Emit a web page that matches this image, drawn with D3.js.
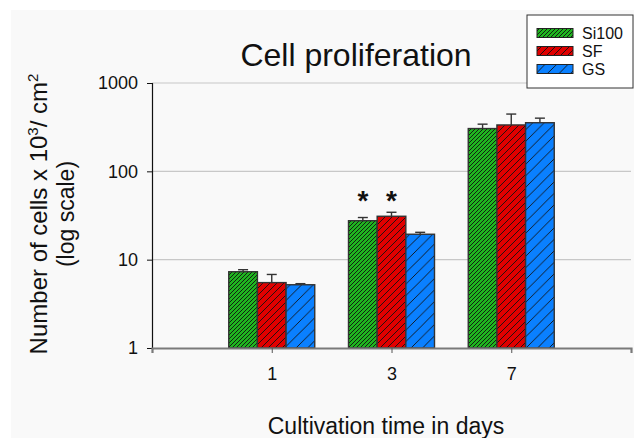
<!DOCTYPE html>
<html><head><meta charset="utf-8">
<script src="https://cdn.jsdelivr.net/npm/d3@7"></script>
<style>html,body{margin:0;padding:0;background:#fff}svg{display:block;font-family:"Liberation Sans",Arial,sans-serif}</style>
</head><body><svg id="c" width="634" height="438"></svg>
<script>
const days = ["1","3","7"];
const seriesNames = ["Si100","SF","GS"];
const si100 = [7.3, 27.6, 305];
const sf = [5.5, 31, 335];
const gs = [5.2, 19.4, 355];
const si100Err = [7.7, 30, 342];
const sfErr = [6.8, 34.4, 445];
const gsErr = [5.35, 20.4, 400];
const yTicks = [1, 10, 100, 1000];
const colors = ["#1fb51f", "#e00000", "#0a80ff"];
const hatchSpacing = [4, 7, 11.5];
const stars = [{day:"3", series:"Si100"}, {day:"3", series:"SF"}];

const values = [si100, sf, gs];
const errs = [si100Err, sfErr, gsErr];

const svg = d3.select("#c");
const W = 634, H = 438;
svg.append("rect").attr("x",11).attr("y",10).attr("width",W-11).attr("height",H-10).attr("fill","#f9f9f9");

const x0 = 152, x1 = 631, yTop = 83, yBot = 348;
const x = d3.scalePoint().domain(days).range([x0, x1]).padding(1);
const xs = d3.scaleBand().domain(seriesNames).range([-43, 43]).padding(0);
const y = d3.scaleLog().domain([1, 1000]).range([yBot, yTop]);

// patterns
const defs = svg.append("defs");
colors.forEach((c, i) => {
  const s = hatchSpacing[i];
  const p = defs.append("pattern").attr("id","h"+i).attr("patternUnits","userSpaceOnUse")
    .attr("width", s).attr("height", s);
  p.append("rect").attr("width", s).attr("height", s).attr("fill", c);
  p.append("path").attr("d", `M0,${s} L${s},0 M${-s/2},${s/2} L${s/2},${-s/2} M${s/2},${s*1.5} L${s*1.5},${s/2}`)
    .attr("stroke","#111").attr("stroke-width",0.9);
});

// gridlines
svg.append("g").selectAll("line").data(yTicks.filter(d => d > 1)).join("line")
  .attr("x1", x0).attr("x2", x1).attr("y1", d => y(d)).attr("y2", d => y(d))
  .attr("stroke","#c8c8c8").attr("stroke-width",1.2);

// y axis
const yAxis = d3.axisLeft(y).tickValues(yTicks).tickFormat(d3.format("d")).tickSize(5).tickPadding(9);
const ya = svg.append("g").attr("transform",`translate(${x0},0)`).call(yAxis);
ya.select(".domain").attr("stroke","#111").attr("stroke-width",1.2);
ya.selectAll(".tick line").attr("stroke","#111");
ya.selectAll("text").attr("font-size",18).attr("fill","#111").attr("font-family","Liberation Sans, Arial, sans-serif");

// bars
const g = svg.append("g");
seriesNames.forEach((s, si) => {
  days.forEach((d, di) => {
    const bx = x(d) + xs(s);
    const bw = xs.bandwidth();
    const v = values[si][di];
    g.append("rect").attr("x", bx).attr("y", y(v)).attr("width", bw).attr("height", y(1) - y(v))
      .attr("fill", `url(#h${si})`).attr("stroke","#333").attr("stroke-width",1.4);
    const cx = bx + bw/2, e = errs[si][di];
    g.append("line").attr("x1",cx).attr("x2",cx).attr("y1",y(v)).attr("y2",y(e)).attr("stroke","#333").attr("stroke-width",1.4);
    g.append("line").attr("x1",cx-5).attr("x2",cx+5).attr("y1",y(e)).attr("y2",y(e)).attr("stroke","#333").attr("stroke-width",1.4);
  });
});

// x axis
const xAxis = d3.axisBottom(x).tickSize(5).tickPadding(14);
const xa = svg.append("g").attr("transform",`translate(0,${yBot})`).call(xAxis);
xa.select(".domain").attr("stroke","#7a7a7a").attr("stroke-width",2.2);
xa.selectAll(".tick line").attr("stroke","#555");
xa.selectAll("text").attr("font-size",18).attr("fill","#111").attr("font-family","Liberation Sans, Arial, sans-serif");

// stars
svg.append("g").selectAll("text").data(stars).join("text")
  .attr("x", d => x(d.day) + xs(d.series) + xs.bandwidth()/2)
  .attr("y", 210).attr("text-anchor","middle").attr("font-size",28).attr("font-weight","bold").attr("fill","#111")
  .text("*");

// title
svg.append("text").attr("x",356).attr("y",65.5).attr("text-anchor","middle").attr("font-size",32).attr("fill","#111")
  .text("Cell proliferation");

// x label
svg.append("text").attr("x",386).attr("y",434).attr("text-anchor","middle").attr("font-size",23).attr("fill","#111")
  .text("Cultivation time in days");

// y label
const yl = svg.append("text").attr("transform","translate(47,214) rotate(-90)").attr("text-anchor","middle")
  .attr("font-size",24).attr("fill","#111");
yl.append("tspan").text("Number of cells x 10");
yl.append("tspan").attr("dy",-9).attr("font-size",15).text("3");
yl.append("tspan").attr("dy",9).text("/ cm");
yl.append("tspan").attr("dy",-9).attr("font-size",15).text("2");
svg.append("text").attr("transform","translate(74,214) rotate(-90)").attr("text-anchor","middle")
  .attr("font-size",23).attr("fill","#111").text("(log scale)");

// legend
const lg = svg.append("g");
lg.append("rect").attr("x",527).attr("y",15).attr("width",106).attr("height",73).attr("fill","#fff").attr("stroke","#333").attr("stroke-width",1);
seriesNames.forEach((s, i) => {
  const cy = 33 + i*18;
  lg.append("rect").attr("x",537).attr("y",cy-4.5).attr("width",36).attr("height",9)
    .attr("fill",`url(#h${i})`).attr("stroke","#222").attr("stroke-width",1);
  lg.append("text").attr("x",582).attr("y",cy+6).attr("font-size",16).attr("fill","#111").text(s);
});
</script></body></html>
